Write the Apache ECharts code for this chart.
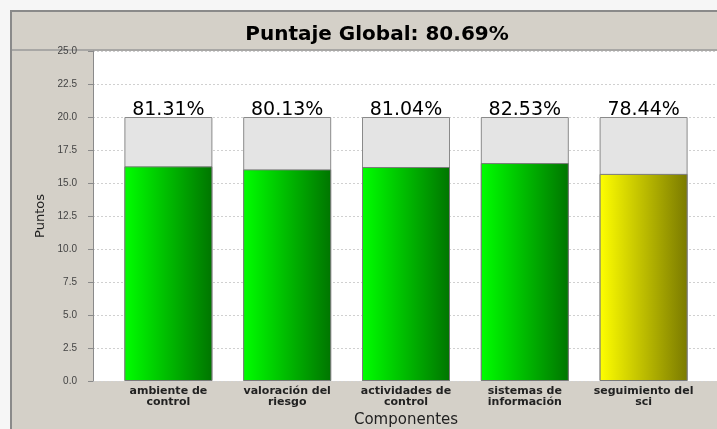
<!DOCTYPE html>
<html>
<head>
<meta charset="utf-8">
<script src="https://cdn.jsdelivr.net/npm/echarts@6/dist/echarts.min.js"></script>
<style>
  html, body { margin: 0; padding: 0; background: #f6f6f6; }
  #chart { width: 717px; height: 429px; }
</style>
</head>
<body>
<div id="chart"></div>
<script>
// datos del grafico
var componentes = ["ambiente de\ncontrol", "valoración del\nriesgo", "actividades de\ncontrol", "sistemas de\ninformación", "seguimiento del\nsci"];
var puntajes = [16.26, 16.03, 16.21, 16.51, 15.69];
var maximos = [20, 20, 20, 20, 20];
var porcentajes = ["81.31%", "80.13%", "81.04%", "82.53%", "78.44%"];
var ticksY = [0, 25, 2.5];

function degradado(c1, c2) {
  return {
    type: "linear", x: 0, y: 0, x2: 1, y2: 0,
    colorStops: [{ offset: 0, color: c1 }, { offset: 1, color: c2 }]
  };
}
var verde = degradado("#00ff00", "#007500");
var amarillo = degradado("#ffff00", "#7a7a00");

var myChart = echarts.init(document.getElementById("chart"));

var option = {
  animation: false,
  backgroundColor: "#f6f6f6",
  graphic: [
    {
      type: "rect", z: -10,
      shape: { x: 11, y: 11, width: 720, height: 430 },
      style: { fill: "#d4d0c8", stroke: "#8a8a8a", lineWidth: 2 }
    },
    {
      type: "line", z: -5,
      shape: { x1: 12, y1: 50, x2: 717, y2: 50 },
      style: { stroke: "#9a9a9a", lineWidth: 1.5 }
    }
  ],
  title: {
    text: "Puntaje Global: 80.69%",
    left: 372,
    top: 20,
    textAlign: "center",
    textStyle: { fontFamily: "DejaVu Sans", fontWeight: "bold", fontSize: 20, color: "#000" }
  },
  grid: [
    { left: 93, right: 0, top: 51, bottom: 48, show: true, backgroundColor: "#ffffff", borderWidth: 0, outerBoundsMode: "none" },
    { left: 109, right: 14, top: 51, bottom: 48, outerBoundsMode: "none" }
  ],
  xAxis: [
    { gridIndex: 0, type: "value", show: false },
    {
      gridIndex: 1,
      type: "category",
      data: componentes,
      name: "Componentes",
      nameLocation: "middle",
      nameGap: 32,
      nameTextStyle: { fontFamily: "DejaVu Sans", fontSize: 15, color: "#222" },
      axisLine: { show: false },
      axisTick: { show: false },
      axisLabel: {
        interval: 0,
        margin: 5,
        fontFamily: "DejaVu Sans",
        fontWeight: "bold",
        fontSize: 11,
        lineHeight: 11,
        color: "#222"
      }
    }
  ],
  yAxis: [
    {
      gridIndex: 0,
      type: "value",
      min: ticksY[0],
      max: ticksY[1],
      interval: ticksY[2],
      name: "Puntos",
      nameLocation: "middle",
      nameRotate: 90,
      nameGap: 44,
      nameTextStyle: { fontFamily: "DejaVu Sans", fontSize: 13, color: "#222" },
      axisLine: { show: true, lineStyle: { color: "#8a8a8a" } },
      axisTick: { show: true, length: 5, lineStyle: { color: "#8a8a8a" } },
      axisLabel: {
        margin: 16,
        fontFamily: "Liberation Sans",
        fontSize: 10,
        color: "#444",
        formatter: function (v) { return v.toFixed(1); }
      },
      splitLine: { show: true, lineStyle: { color: "#d0d0d0", type: [2, 2] } }
    },
    { gridIndex: 1, type: "value", min: ticksY[0], max: ticksY[1], show: false }
  ],
  series: [
    {
      name: "maximo",
      type: "bar",
      xAxisIndex: 1,
      yAxisIndex: 1,
      barWidth: 88,
      barGap: "-100%",
      data: maximos,
      itemStyle: { color: "#e4e4e4", borderColor: "#8a8a8a", borderWidth: 1 },
      label: {
        show: true,
        position: "top",
        distance: 1,
        offset: [0, 4],
        fontFamily: "DejaVu Sans",
        fontSize: 19,
        color: "#000",
        formatter: function (p) { return porcentajes[p.dataIndex]; }
      },
      z: 1
    },
    {
      name: "puntaje",
      type: "bar",
      xAxisIndex: 1,
      yAxisIndex: 1,
      barWidth: 88,
      data: puntajes.map(function (v, i) {
        return { value: v, itemStyle: { color: i === 4 ? amarillo : verde } };
      }),
      itemStyle: { borderColor: "#7a7a7a", borderWidth: 1 },
      z: 2
    }
  ]
};

myChart.setOption(option);
</script>
</body>
</html>
